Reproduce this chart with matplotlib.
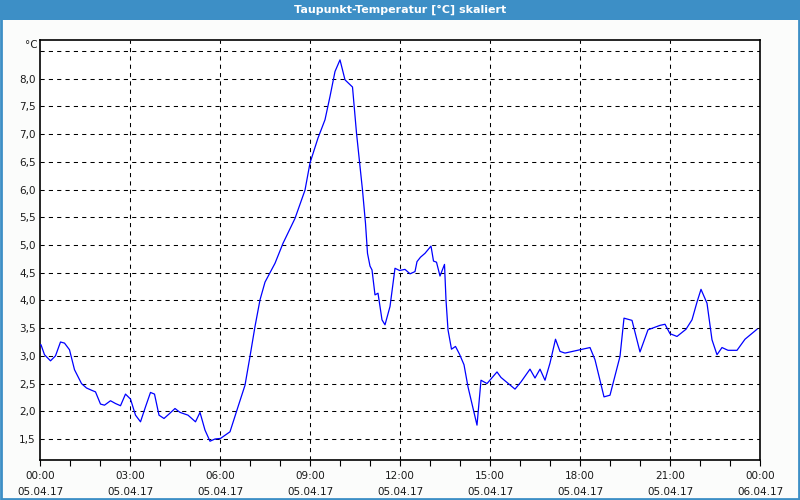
import matplotlib
matplotlib.use('Agg')
import matplotlib.pyplot as plt
from matplotlib.patches import Rectangle
import numpy as np

# minutes since 05.04.17 00:00, dew point in degC
minutes = [0, 2, 9, 21, 31, 41, 49, 59, 69, 83, 93, 103, 111, 121, 129, 141, 151, 161,
           171, 181, 191, 201, 211, 221, 229, 238, 248, 258, 270, 280, 296, 311, 320,
           330, 340, 350, 361, 380, 396, 410, 420, 430, 440, 450, 470, 486, 510, 530,
           540, 556, 570, 580, 590, 600, 610, 625, 633, 645, 651, 655, 660, 664, 670,
           676, 684, 690, 700, 710, 719, 730, 740, 750, 754, 761, 770, 782, 787, 793,
           800, 809, 812, 816, 823, 831, 839, 848, 856, 874, 882, 894, 914, 922, 950,
           962, 980, 990, 1000, 1010, 1020, 1031, 1040, 1050, 1100, 1110, 1128, 1140,
           1160, 1168, 1184, 1200, 1216, 1240, 1250, 1260, 1274, 1292, 1304, 1314, 1322,
           1334, 1344, 1354, 1364, 1376, 1394, 1410, 1434]
dewpoint = [3.20, 3.20, 3.02, 2.91, 3.00, 3.25, 3.23, 3.11, 2.75, 2.50, 2.42, 2.38,
            2.35, 2.13, 2.11, 2.19, 2.14, 2.10, 2.31, 2.22, 1.93, 1.81, 2.08, 2.34,
            2.31, 1.93, 1.87, 1.95, 2.05, 1.98, 1.93, 1.81, 1.98, 1.66, 1.46, 1.50,
            1.51, 1.63, 2.08, 2.47, 2.99, 3.53, 4.01, 4.33, 4.67, 5.03, 5.48, 5.99,
            6.48, 6.93, 7.26, 7.68, 8.13, 8.34, 7.98, 7.85, 7.02, 5.99, 5.39, 4.85,
            4.62, 4.55, 4.10, 4.13, 3.65, 3.56, 3.89, 4.58, 4.54, 4.56, 4.48, 4.52,
            4.70, 4.78, 4.85, 4.98, 4.71, 4.69, 4.44, 4.65, 4.01, 3.47, 3.12, 3.17,
            3.03, 2.84, 2.44, 1.75, 2.56, 2.50, 2.71, 2.61, 2.40, 2.53, 2.76, 2.60,
            2.76, 2.56, 2.87, 3.30, 3.08, 3.05, 3.15, 2.93, 2.26, 2.29, 2.99, 3.68,
            3.64, 3.07, 3.47, 3.55, 3.57, 3.40, 3.35, 3.48, 3.65, 3.97, 4.20, 3.95,
            3.29, 3.02, 3.15, 3.10, 3.10, 3.30, 3.48]

xtick_pos = [0, 180, 360, 540, 720, 900, 1080, 1260, 1440]
xtick_lab = ['00:00\n05.04.17', '03:00\n05.04.17', '06:00\n05.04.17', '09:00\n05.04.17',
             '12:00\n05.04.17', '15:00\n05.04.17', '18:00\n05.04.17', '21:00\n05.04.17',
             '00:00\n06.04.17']
ytick_pos = [1.5, 2.0, 2.5, 3.0, 3.5, 4.0, 4.5, 5.0, 5.5, 6.0, 6.5, 7.0, 7.5, 8.0]
ytick_lab = ['1,5', '2,0', '2,5', '3,0', '3,5', '4,0', '4,5', '5,0', '5,5', '6,0',
             '6,5', '7,0', '7,5', '8,0']

barcol = '#3d8fc6'
txtcol = '#1a1a1a'

fig = plt.figure(figsize=(8, 5), dpi=100, facecolor='#fbfcfb')

# title bar + frame
fig.patches.append(Rectangle((0, 1 - 20 / 500), 1, 20 / 500, transform=fig.transFigure,
                             facecolor=barcol, edgecolor='none', zorder=0))
fig.patches.append(Rectangle((0.001, 0.002), 0.998, 0.996, transform=fig.transFigure,
                             facecolor='none', edgecolor=barcol, lw=2.0, zorder=0))
fig.text(0.5, 1 - 10 / 500, 'Taupunkt-Temperatur [°C] skaliert', color='white',
         fontsize=8, fontweight='bold', ha='center', va='center')

ax = fig.add_axes([40 / 800, 40 / 500, 720 / 800, 420 / 500])
ax.set_facecolor('white')
ax.plot(minutes, dewpoint, color='#0000ff', lw=0.9, zorder=3)

ax.set_xlim(0, 1440)
ax.set_ylim(1.5 - 21 / 55.4, 8.5 + 11 / 55.4)

ax.set_xticks(xtick_pos)
ax.set_xticklabels(xtick_lab, fontsize=7.5, color=txtcol, linespacing=1.75)
ax.set_xticks(np.arange(0, 1441, 60), minor=True)
ax.tick_params(axis='x', which='both', direction='out', length=4, width=0.8, pad=4)

ax.set_yticks(ytick_pos)
ax.set_yticklabels(ytick_lab, fontsize=7.5, color=txtcol)
ax.tick_params(axis='y', length=0, pad=3)

# dashed grid: vertical at 3h, horizontal every 0.5 (incl. unlabeled 8.5)
for xv in xtick_pos[1:-1]:
    ax.axvline(xv, color='black', lw=0.75, ls=(0, (4, 4)), zorder=1)
for yv in ytick_pos + [8.5]:
    ax.axhline(yv, color='black', lw=0.75, ls=(0, (4, 4)), zorder=1)

for sp in ax.spines.values():
    sp.set_linewidth(1.2)
    sp.set_color('black')

fig.text(38 / 800, 1 - 45 / 500, '°C', fontsize=7.5, color=txtcol, ha='right', va='center')

fig.savefig('out.png', dpi=100, facecolor=fig.get_facecolor())
